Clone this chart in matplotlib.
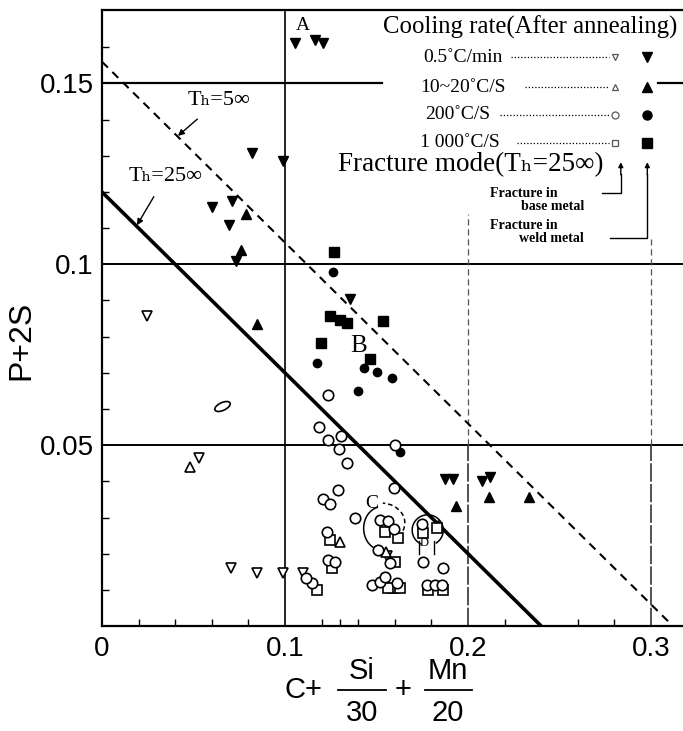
import matplotlib
matplotlib.use('Agg')
import matplotlib.pyplot as plt
from matplotlib.markers import MarkerStyle
from matplotlib.patches import Arc
from matplotlib.transforms import Affine2D
from matplotlib.lines import Line2D

SANS = ['Liberation Sans', 'DejaVu Sans']
SERIF = ['Liberation Serif', 'DejaVu Serif']

# fracture in weld metal (filled markers)
weld_slow_x = [0.1055, 0.1164, 0.1208, 0.0820, 0.0989, 0.0601, 0.0710, 0.0694, 0.0732,
               0.1355, 0.1874, 0.1918, 0.2077, 0.2120]
weld_slow_y = [0.1611, 0.1619, 0.1611, 0.1308, 0.1286, 0.1158, 0.1175, 0.1108, 0.1008,
               0.0903, 0.0406, 0.0406, 0.0400, 0.0411]
weld_mid_x = [0.0787, 0.0760, 0.0847, 0.1934, 0.2115, 0.2333, 0.1836]
weld_mid_y = [0.1139, 0.1039, 0.0836, 0.0333, 0.0356, 0.0358, 0.0278]
weld_fast_x = [0.1262, 0.1175, 0.1432, 0.1503, 0.1585, 0.1399, 0.1628]
weld_fast_y = [0.0978, 0.0728, 0.0714, 0.0703, 0.0686, 0.0650, 0.0481]
weld_quench_x = [0.1268, 0.1246, 0.1301, 0.1339, 0.1536, 0.1197, 0.1464]
weld_quench_y = [0.1033, 0.0856, 0.0847, 0.0839, 0.0842, 0.0783, 0.0739]

# fracture in base metal (open markers)
base_slow_x = [0.0246, 0.0530, 0.0705, 0.0847, 0.0989, 0.1098, 0.1557]
base_slow_y = [0.0858, 0.0464, 0.0161, 0.0147, 0.0147, 0.0147, 0.0194]
base_mid_x = [0.0481, 0.1301, 0.1552]
base_mid_y = [0.0439, 0.0233, 0.0206]
base_fast_x = [0.1235, 0.1186, 0.1235, 0.1306, 0.1295, 0.1339, 0.1596, 0.1290, 0.1208,
               0.1246, 0.1383, 0.1601, 0.1230, 0.1235, 0.1273, 0.1148, 0.1115, 0.1519,
               0.1563, 0.1596, 0.1508, 0.1574, 0.1475, 0.1519, 0.1546, 0.1612, 0.1749,
               0.1776, 0.1820, 0.1858, 0.1754, 0.1863]
base_fast_y = [0.0639, 0.0550, 0.0514, 0.0525, 0.0489, 0.0450, 0.0381, 0.0375, 0.0350,
               0.0336, 0.0300, 0.0500, 0.0261, 0.0183, 0.0178, 0.0119, 0.0133, 0.0294,
               0.0289, 0.0267, 0.0211, 0.0175, 0.0114, 0.0122, 0.0136, 0.0119, 0.0281,
               0.0114, 0.0114, 0.0114, 0.0178, 0.0161]
base_quench_x = [0.1246, 0.1257, 0.1175, 0.1546, 0.1617, 0.1601, 0.1590, 0.1628, 0.1563,
                 0.1754, 0.1831, 0.1781, 0.1863]
base_quench_y = [0.0239, 0.0161, 0.0100, 0.0261, 0.0244, 0.0178, 0.0106, 0.0106, 0.0106,
                 0.0258, 0.0272, 0.0100, 0.0100]
odd_x = [0.0656]
odd_y = [0.0608]

# boundary lines
th25_x = [0.0, 0.24]
th25_y = [0.12, 0.0]
th5_x = [0.0, 0.312]
th5_y = [0.156, 0.0]

x_ticks = [0, 0.1, 0.2, 0.3]
x_labels = ['0', '0.1', '0.2', '0.3']
y_ticks = [0.05, 0.1, 0.15]
y_labels = ['0.05', '0.1', '0.15']

legend_rates = ['0.5\u02daC/min', '10~20\u02daC/S', '200\u02daC/S', '1 000\u02daC/S']

fig = plt.figure(figsize=(6.83, 7.31), dpi=100)
ax = fig.add_axes([0.1493, 0.1436, 0.8507, 0.8427])
ax.set_xlim(0, 0.3175)
ax.set_ylim(0, 0.1703)

for s in ['top', 'left', 'bottom']:
    ax.spines[s].set_linewidth(1.6)
ax.spines['right'].set_visible(False)

ax.set_xticks(x_ticks)
ax.set_xticklabels(x_labels, fontsize=20, family=SANS)
ax.set_yticks(y_ticks)
ax.set_yticklabels(y_labels, fontsize=20, family=SANS)
ax.set_xticks([0.02, 0.04, 0.06, 0.08, 0.12, 0.13, 0.14, 0.16, 0.18, 0.22, 0.26, 0.28], minor=True)
ax.set_yticks([i / 100 for i in range(1, 17)], minor=True)
ax.tick_params(which='major', length=0, pad=7)
ax.tick_params(axis='y', which='major', pad=6)
ax.tick_params(which='minor', direction='in', length=5, width=1)

# reference grid, drawn in pieces
ax.axhline(0.1, color='black', lw=1.4)
ax.axhline(0.05, color='black', lw=1.4)
ax.plot([0, 0.153], [0.15, 0.15], color='black', lw=1.6)
ax.plot([0.304, 0.3175], [0.15, 0.15], color='black', lw=1.6)
ax.axvline(0.1, color='black', lw=1.2)
for gx, top in [(0.2, 0.114), (0.3, 0.107)]:
    ax.plot([gx, gx], [0, 0.05], color='#222222', lw=1.1, dashes=(12, 1.5))
    ax.plot([gx, gx], [0.05, top], color='#555555', lw=0.9, dashes=(5, 3))

ax.plot(th25_x, th25_y, color='black', lw=2.6, solid_capstyle='butt')
ax.plot(th5_x, th5_y, color='black', lw=1.5, dashes=(4, 3))

mk = dict(ls='none', color='black', clip_on=False)
ax.plot(weld_slow_x, weld_slow_y, marker='v', ms=7, **mk)
ax.plot(weld_mid_x, weld_mid_y, marker='^', ms=7, **mk)
ax.plot(weld_fast_x, weld_fast_y, marker='o', ms=6, **mk)
ax.plot(weld_quench_x, weld_quench_y, marker='s', ms=6.5, **mk)
op = dict(ls='none', mfc='white', mec='black', mew=1.2, clip_on=False)
ax.plot(base_slow_x, base_slow_y, marker='v', ms=7, **op)
ax.plot(base_mid_x, base_mid_y, marker='^', ms=7, **op)
ax.plot(base_quench_x, base_quench_y, marker='s', ms=6.5, **op)
ax.plot(base_fast_x, base_fast_y, marker='o', ms=7.5, **op)
ax.plot(odd_x, odd_y, marker=MarkerStyle('o', transform=Affine2D().scale(1.5, 0.7).rotate_deg(25)),
        ms=8, **op)

# curves around groups C and D
ax.add_patch(Arc((0.1530, 0.0270), 0.020, 0.012, theta1=110, theta2=250, color='black', lw=1.1))
ax.add_patch(Arc((0.1525, 0.0285), 0.026, 0.011, theta1=-10, theta2=80, color='black', lw=1.1,
                 ls=(0, (3, 2))))
ax.add_patch(Arc((0.1780, 0.0265), 0.017, 0.0085, theta1=-40, theta2=230, color='black', lw=1.1))
ax.plot([0.1735, 0.1735], [0.0200, 0.0235], color='black', lw=1.0)
ax.plot([0.1815, 0.1815], [0.0200, 0.0235], color='black', lw=1.0)

ser = dict(family=SERIF, color='black')
ax.text(0.1100, 0.1660, 'A', fontsize=14, **ser, ha='center', va='center')
ax.text(0.1405, 0.0775, 'B', fontsize=18, **ser, ha='center', va='center')
ax.text(0.1475, 0.0340, 'C', fontsize=14, **ser, ha='center', va='center')
ax.text(0.1760, 0.0230, 'D', fontsize=9, **ser, ha='center', va='center')

ax.annotate('T\u2095=5\u221e', xy=(0.0415, 0.1355), xytext=(0.0639, 0.1453), fontsize=16,
            ha='center', va='center', **ser,
            arrowprops=dict(arrowstyle='-|>', color='black', lw=1.0, shrinkA=7, shrinkB=0,
                            mutation_scale=9))
ax.annotate('T\u2095=25\u221e', xy=(0.0191, 0.1108), xytext=(0.0350, 0.1244), fontsize=16,
            ha='center', va='center', **ser,
            arrowprops=dict(arrowstyle='-|>', color='black', lw=1.0, shrinkA=7, shrinkB=0,
                            mutation_scale=9))

# key in the upper right
ax.text(0.1536, 0.1656, 'Cooling rate(After annealing)', fontsize=17.8, va='center', **ser)
key_y = [0.1572, 0.1489, 0.1414, 0.1336]
key_x = [0.1754, 0.1738, 0.1765, 0.1738]
dots_x = [0.2235, 0.2311, 0.2175, 0.2268]
key_open = ['v', '^', 'o', 's']
for lbl, kx, dx, ky, m in zip(legend_rates, key_x, dots_x, key_y, key_open):
    ax.text(kx, ky, lbl, fontsize=14, va='center', **ser)
    ax.plot([dx, 0.2770], [ky, ky], color='black', lw=0.9, ls=(0, (1, 1.6)), clip_on=False)
    ax.plot([0.2805], [ky], marker=m, ms=5, mfc='white', mec='#555555', mew=0.9, ls='none',
            clip_on=False)
    ax.plot([0.2978], [ky], marker=m, ms=6.5, color='black', ls='none', clip_on=False)
ax.text(0.1290, 0.1275, 'Fracture mode(T\u2095=25\u221e)', fontsize=19.5, va='center', **ser)
ax.text(0.2120, 0.1197, 'Fracture in', fontsize=10, va='center', weight='bold', **ser)
ax.text(0.2290, 0.1161, 'base metal', fontsize=10, va='center', weight='bold', **ser)
ax.text(0.2120, 0.1108, 'Fracture in', fontsize=10, va='center', weight='bold', **ser)
ax.text(0.2280, 0.1072, 'weld metal', fontsize=10, va='center', weight='bold', **ser)
ax.plot([0.2730, 0.2835, 0.2835], [0.1197, 0.1197, 0.1250], color='black', lw=1.0)
ax.annotate('', xy=(0.2835, 0.1290), xytext=(0.2835, 0.1240),
            arrowprops=dict(arrowstyle='-|>', color='black', lw=1.0, mutation_scale=7))
ax.plot([0.2775, 0.2980, 0.2980], [0.1072, 0.1072, 0.1250], color='black', lw=1.0)
ax.annotate('', xy=(0.2980, 0.1290), xytext=(0.2980, 0.1240),
            arrowprops=dict(arrowstyle='-|>', color='black', lw=1.0, mutation_scale=7))

# axis titles
fig.text(0.032, 0.535, 'P+2S', rotation=90, fontsize=23, family=SANS, ha='center', va='center')
fig.text(0.4436, 0.0561, 'C+', fontsize=21, family=SANS, ha='center', va='center')
fig.text(0.530, 0.0815, 'Si', fontsize=21, family=SANS, ha='center', va='center')
fig.text(0.530, 0.0250, '30', fontsize=21, family=SANS, ha='center', va='center')
fig.text(0.590, 0.0561, '+', fontsize=21, family=SANS, ha='center', va='center')
fig.text(0.656, 0.0815, 'Mn', fontsize=21, family=SANS, ha='center', va='center')
fig.text(0.656, 0.0250, '20', fontsize=21, family=SANS, ha='center', va='center')
fig.add_artist(Line2D([0.495, 0.565], [0.0561, 0.0561], color='black', lw=1.3))
fig.add_artist(Line2D([0.622, 0.691], [0.0561, 0.0561], color='black', lw=1.3))

fig.savefig('out.png', dpi=100)
